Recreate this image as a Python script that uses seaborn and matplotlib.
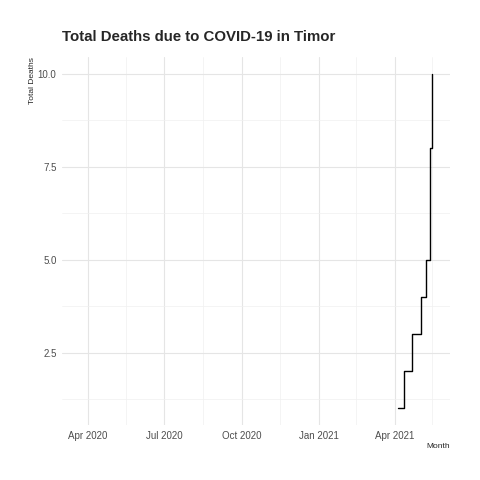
import matplotlib
matplotlib.use("Agg")
import matplotlib.pyplot as plt
import matplotlib.dates as mdates
import seaborn as sns
import pandas as pd
from matplotlib.ticker import MultipleLocator

dates = ["2021-04-05", "2021-04-12", "2021-04-22", "2021-05-02", "2021-05-09", "2021-05-13", "2021-05-15", "2021-05-16"]
deaths = [1, 2, 3, 4, 5, 8, 10, 10]
df = pd.DataFrame({"Month": pd.to_datetime(dates), "Total Deaths": deaths})

sns.set_style("white")
plt.rcParams['font.family'] = ['Liberation Sans', 'DejaVu Sans']
fig = plt.figure(figsize=(4.8, 4.8), dpi=100)
ax = fig.add_axes([62/480, 55/480, 388/480, 368/480])
sns.lineplot(data=df, x="Month", y="Total Deaths", ax=ax, color="black", lw=1, drawstyle="steps-post")

ax.set_xlim(pd.Timestamp("2020-03-01"), pd.Timestamp("2021-06-06"))
ax.set_ylim(0.55, 10.45)
ax.set_yticks([2.5, 5.0, 7.5, 10.0])
ax.set_yticklabels(["2.5", "5.0", "7.5", "10.0"])
ax.set_yticks([1.25, 3.75, 6.25, 8.75], minor=True)
ticks = pd.to_datetime(["2020-04-01", "2020-07-01", "2020-10-01", "2021-01-01", "2021-04-01"])
ax.set_xticks(ticks)
ax.set_xticklabels(["Apr 2020", "Jul 2020", "Oct 2020", "Jan 2021", "Apr 2021"])
minors = pd.to_datetime(["2020-05-16", "2020-08-16", "2020-11-16", "2021-02-14", "2021-05-16"])
ax.set_xticks(minors, minor=True)
ax.grid(True, which="major", color="#E5E5E5", lw=0.8)
ax.grid(True, which="minor", color="#F0F0F0", lw=0.5)
ax.tick_params(which="both", length=0, labelsize=7, colors="#4D4D4D", pad=4)
for s in ax.spines.values():
    s.set_visible(False)
ax.set_xlabel("Month", fontsize=6, loc="right", labelpad=2)
ax.set_ylabel("Total Deaths", fontsize=6, loc="top", labelpad=1)
fig.text(62/480, 1 - 37/480, "Total Deaths due to COVID-19 in Timor", fontsize=10.8, fontweight="bold", va="center", ha="left")
fig.savefig("out.png", dpi=100)
